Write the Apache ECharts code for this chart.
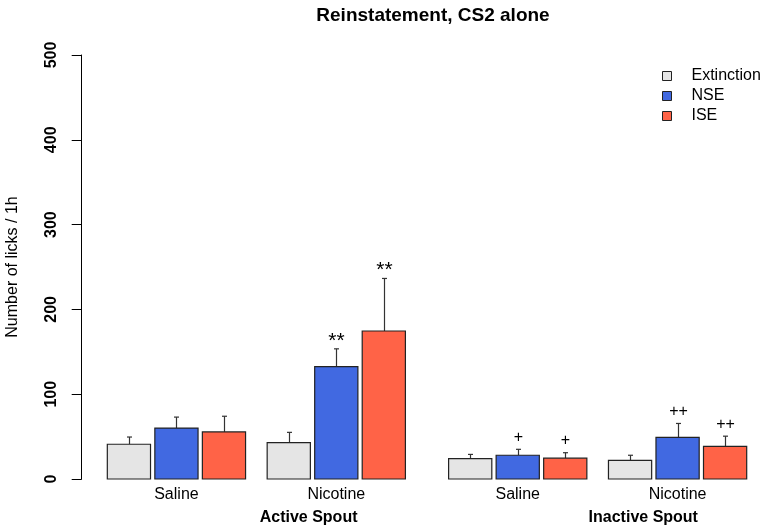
<!DOCTYPE html>
<html>
<head>
<meta charset="utf-8">
<script src="https://cdn.jsdelivr.net/npm/echarts@6/dist/echarts.min.js"></script>
<style>html,body{margin:0;padding:0;background:#fff}#c{width:768px;height:531px}</style>
</head>
<body>
<div id="c"></div>
<script>
// ---- data ----
const categories = ['Saline', 'Nicotine', 'Saline', 'Nicotine'];
const spouts = ['Active Spout', 'Inactive Spout'];
const seriesNames = ['Extinction', 'NSE', 'ISE'];
const extinction = [41, 43, 24, 22];
const extinctionSem = [8.5, 12, 5, 6];
const extinctionSig = ['', '', '', ''];
const nse = [60, 132.5, 28, 49];
const nseSem = [13, 21, 7, 16.5];
const nseSig = ['', '**', '+', '++'];
const ise = [55.5, 174.5, 24.5, 38.5];
const iseSem = [18.5, 62, 6.5, 12];
const iseSig = ['', '**', '+', '++'];
const yTicks = [0, 100, 200, 300, 400, 500];
const title = 'Reinstatement, CS2 alone';
const yName = 'Number of licks / 1h';

// ---- layout (in bar-width units, R barplot style) ----
const BAR = 1, SPACE_IN = 0.1, SPACE_GROUP = 0.5, SPACE_SPOUT = 1.0, AXIS_PAD = 0.593;
const groupWidth = 3 * BAR + 2 * SPACE_IN;
const groupLefts = [];
{
  let x = 0;
  for (let g = 0; g < categories.length; g++) {
    if (g > 0) x += (g === 2 ? SPACE_SPOUT : SPACE_GROUP);
    groupLefts.push(x);
    x += groupWidth;
  }
}
const xMax = groupLefts[groupLefts.length - 1] + groupWidth;
const colors = ['#E5E5E5', '#4169E1', '#FF6347'];
const FONT = 'Liberation Sans, Arial, Helvetica, sans-serif';

function makeSeries(si, vals, sems, sigs) {
  return {
    name: seriesNames[si],
    type: 'custom',
    clip: false,
    itemStyle: { color: colors[si] },
    data: vals.map((v, i) => [i, v, sems[i]]),
    renderItem: function (params, api) {
      const g = api.value(0);
      const v = api.value(1);
      const sem = api.value(2);
      const sig = sigs[g];
      const xl = groupLefts[g] + si * (BAR + SPACE_IN);
      const p0 = api.coord([xl, 0]);
      const p1 = api.coord([xl + BAR, v]);
      const pe = api.coord([xl + BAR / 2, v + sem]);
      const cx = Math.round(pe[0]) + 0.5;
      const children = [
        { type: 'line', shape: { x1: cx, y1: p1[1], x2: cx, y2: pe[1] },
          style: { stroke: '#333', lineWidth: 1.2 } },
        { type: 'line', shape: { x1: cx - 2.5, y1: pe[1], x2: cx + 2.5, y2: pe[1] },
          style: { stroke: '#333', lineWidth: 1.2 } },
        { type: 'rect', shape: { x: p0[0], y: p1[1], width: p1[0] - p0[0], height: p0[1] - p1[1] },
          style: { fill: colors[si], stroke: '#222', lineWidth: 1.2 } }
      ];
      if (sig) {
        const star = sig.indexOf('*') >= 0;
        children.push({ type: 'text', style: { text: sig, x: cx, y: pe[1] - (star ? 8 : 12),
          textAlign: 'center', textVerticalAlign: 'middle', fill: '#000',
          font: (star ? '21px ' : '16px ') + FONT } });
      }
      return { type: 'group', children: children };
    }
  };
}

const labelSeries = {
  type: 'custom', name: 'cats', clip: false, silent: true,
  data: categories.map((c, i) => [i, 0]),
  renderItem: function (params, api) {
    const g = api.value(0);
    const p = api.coord([groupLefts[g] + groupWidth / 2, 0]);
    return { type: 'text', style: { text: categories[g], x: p[0], y: p[1] + 16,
      textAlign: 'center', textVerticalAlign: 'middle', fill: '#000', font: '16px ' + FONT } };
  }
};

const chart = echarts.init(document.getElementById('c'), null, { renderer: 'canvas' });
chart.setOption({
  animation: false,
  backgroundColor: '#fff',
  title: {
    text: title, left: 428, top: 1, textAlign: 'center',
    textStyle: { fontFamily: FONT, fontSize: 19, fontWeight: 'bold', color: '#000' }
  },
  legend: {
    orient: 'vertical', left: 662, top: 68, padding: 0, itemGap: 4,
    itemWidth: 9, itemHeight: 9, icon: 'rect',
    textStyle: { fontFamily: FONT, fontSize: 16, color: '#000', padding: [0, 0, 0, 15] },
    data: seriesNames.map((n, i) => ({ name: n, icon: 'rect',
      itemStyle: { color: colors[i], borderColor: '#222', borderWidth: 1 } }))
  },
  grid: { left: 81.7, right: 21.3, top: 55, bottom: 52, containLabel: false, outerBoundsMode: 'none' },
  xAxis: { type: 'value', min: -AXIS_PAD, max: xMax, show: false },
  yAxis: {
    type: 'value', min: yTicks[0], max: yTicks[yTicks.length - 1], interval: 100,
    name: yName, nameLocation: 'middle', nameGap: 61,
    nameTextStyle: { fontFamily: FONT, fontSize: 16, color: '#000' },
    axisLine: { show: true, onZero: false, lineStyle: { color: '#000', width: 1 } },
    axisTick: { show: true, length: 10, lineStyle: { color: '#000', width: 1 } },
    axisLabel: { rotate: 90, margin: 22, fontFamily: FONT, fontSize: 16, fontWeight: 'bold', color: '#000' },
    splitLine: { show: false }
  },
  graphic: [
    { type: 'text', left: 259.7, top: 510, style: { text: spouts[0], textAlign: 'center',
      font: 'bold 16px ' + FONT, fill: '#000' } },
    { type: 'text', left: 588.6, top: 510, style: { text: spouts[1], textAlign: 'center',
      font: 'bold 16px ' + FONT, fill: '#000' } }
  ],
  series: [
    makeSeries(0, extinction, extinctionSem, extinctionSig),
    makeSeries(1, nse, nseSem, nseSig),
    makeSeries(2, ise, iseSem, iseSig),
    labelSeries
  ]
});
</script>
</body>
</html>
